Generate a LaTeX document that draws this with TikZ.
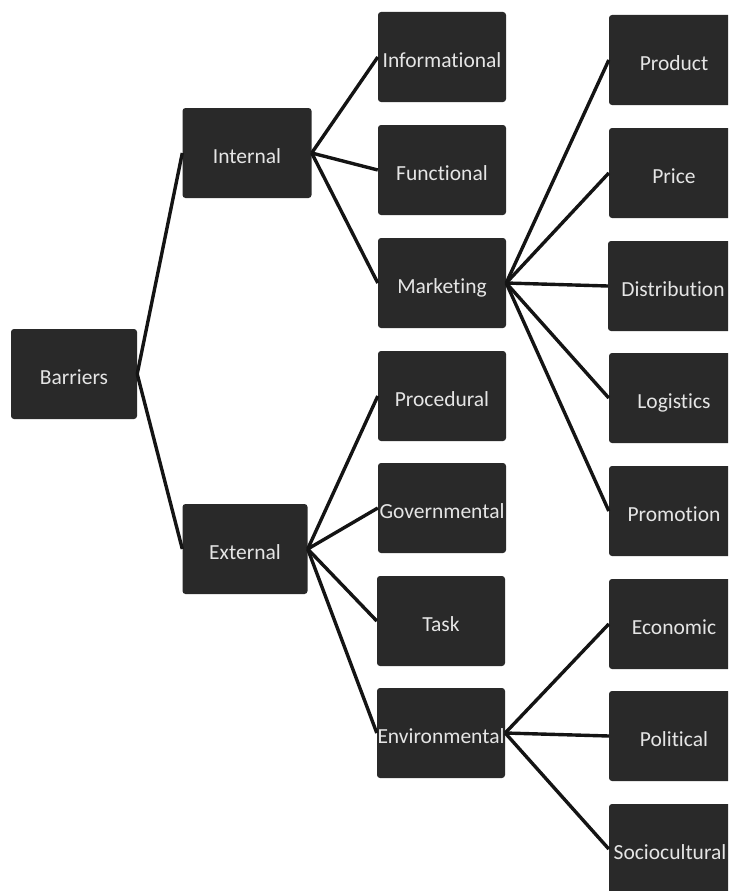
\documentclass[tikz,border=0pt]{standalone}
\usepackage{fontspec}
\setmainfont{Carlito}[Ligatures=NoCommon]
\begin{document}
\begin{tikzpicture}[x=1pt,y=-1pt,
  box/.style={draw=none,fill=black!84,rounded corners=3pt,text=white!90!black,
    font=\fontsize{21.5}{24}\selectfont,inner sep=0pt,minimum height=90pt,
    text height=21pt,text depth=0pt,align=center},
  b1/.style={box,minimum width=126pt},
  b2/.style={box,minimum width=128pt},
  b3/.style={box,minimum width=130pt},
  link/.style={draw=black!92,line width=3.4pt}]
\useasboundingbox (0,0) rectangle (728,891);
\clip (0,0) rectangle (728,891);
% level 0 and 1
\node[b1] (barriers) at (74,374) {Barriers};
\node[b1,minimum width=129pt] (internal) at (247,153) {Internal};
\node[b1,minimum width=125pt] (external) at (245,549) {External};
% level 2
\node[b2] (info) at (442,57) {Informational};
\node[b2] (func) at (442,170) {Functional};
\node[b2] (mark) at (442,283) {Marketing};
\node[b2] (proc) at (442,396) {Procedural};
\node[b2] (gov) at (442,508) {Governmental};
\node[b2] (task) at (441,621) {Task};
\node[b2] (env) at (441,733) {Environmental};
% level 3
\node[b3] (prod) at (674,60) {Product};
\node[b3] (price) at (674,173) {Price};
\node[b3] (dist) at (673,286) {Distribution};
\node[b3] (logi) at (674,398) {Logistics};
\node[b3] (promo) at (674,511) {Promotion};
\node[b3] (econ) at (674,624) {Economic};
\node[b3] (pol) at (674,736) {Political};
\node[b3,minimum width=122pt] (socio) at (670,849) {Sociocultural};
% connectors
\foreach \c in {internal,external} \draw[link] (barriers.east) -- (\c.west);
\foreach \c in {info,func,mark} \draw[link] (internal.east) -- (\c.west);
\foreach \c in {proc,gov,task,env} \draw[link] (external.east) -- (\c.west);
\foreach \c in {prod,price,dist,logi,promo} \draw[link] (mark.east) -- (\c.west);
\foreach \c in {econ,pol,socio} \draw[link] (env.east) -- (\c.west);
\end{tikzpicture}
\end{document}
